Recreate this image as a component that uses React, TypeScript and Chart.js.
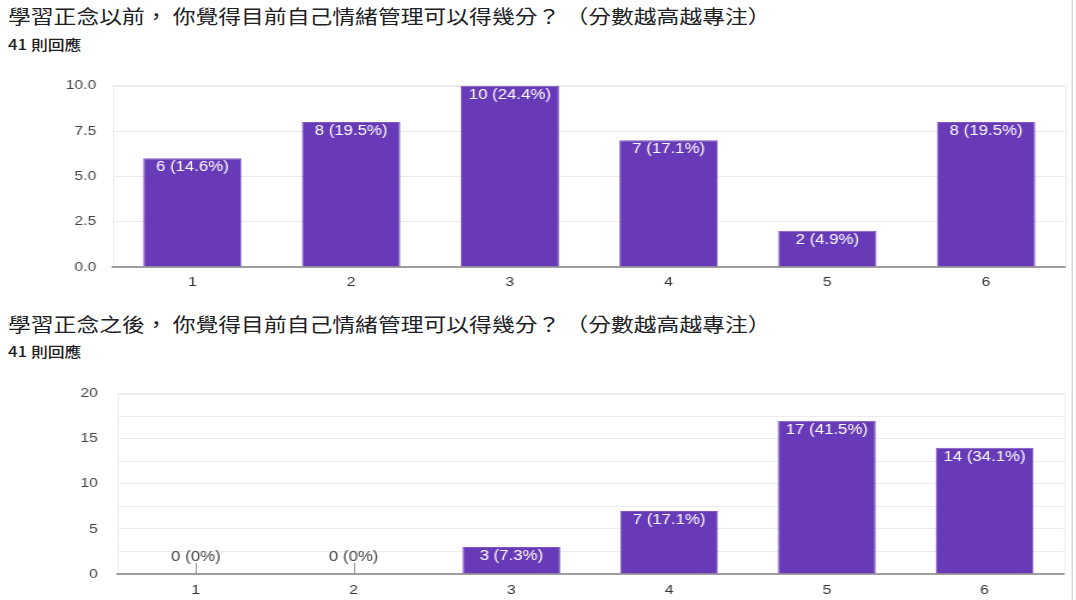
import React, { useEffect, useRef } from "react";
import { Chart, registerables } from "chart.js";

Chart.register(...registerables);

const categories = ["1", "2", "3", "4", "5", "6"];

const beforeTitle = "學習正念以前， 你覺得目前自己情緒管理可以得幾分？ （分數越高越專注）";
const beforeValues = [6, 8, 10, 7, 2, 8];
const beforePercents = ["14.6%", "19.5%", "24.4%", "17.1%", "4.9%", "19.5%"];
const beforeTicks = [0, 2.5, 5, 7.5, 10];

const afterTitle = "學習正念之後， 你覺得目前自己情緒管理可以得幾分？ （分數越高越專注）";
const afterValues = [0, 0, 3, 7, 17, 14];
const afterPercents = ["0%", "0%", "7.3%", "17.1%", "41.5%", "34.1%"];
const afterTicks = [0, 5, 10, 15, 20];

const responsesLabel = "41 則回應";

const BAR_COLOR = "#673ab7";
const CHART_FONT = "'Liberation Sans', Arial, sans-serif";
const TITLE_FONT = "'Noto Sans CJK TC', 'Noto Sans', sans-serif";

// The reference is horizontally stretched; render narrower and scale in X.
const SX = 1.2;
const W = 1076 / SX;

type ChartSpec = {
  values: number[];
  percents: string[];
  max: number;
  step: number;
  labelTicks: number[];
  decimals: number;
  yWidth: number;
  xHeight: number;
  padTop: number;
  padRight: number;
  yPad: number;
  xPad: number;
};

const labelPlugin = {
  id: "barLabels",
  beforeDraw(chart: any) {
    const { ctx, chartArea } = chart;
    ctx.save();
    ctx.strokeStyle = "#ebebeb";
    ctx.lineWidth = 1;
    ctx.strokeRect(
      Math.round(chartArea.left) + 0.5,
      Math.round(chartArea.top) + 0.5,
      Math.round(chartArea.right - chartArea.left),
      Math.round(chartArea.bottom - chartArea.top)
    );
    ctx.restore();
  },
  afterDatasetsDraw(chart: any, _args: any, opts: any) {
    const { ctx } = chart;
    const meta = chart.getDatasetMeta(0);
    const data = chart.data.datasets[0].data as number[];
    const percents: string[] = opts.percents;
    ctx.save();
    ctx.font = `14px ${CHART_FONT}`;
    ctx.textAlign = "center";
    meta.data.forEach((bar: any, i: number) => {
      const text = `${data[i]} (${percents[i]})`;
      if (data[i] > 0) {
        ctx.fillStyle = "#ffffff";
        ctx.textBaseline = "top";
        ctx.fillText(text, bar.x, bar.y + 2);
      } else {
        const base = chart.scales.y.getPixelForValue(0);
        ctx.strokeStyle = "#999999";
        ctx.lineWidth = 1;
        ctx.beginPath();
        ctx.moveTo(Math.round(bar.x) + 0.5, base);
        ctx.lineTo(Math.round(bar.x) + 0.5, base - 11);
        ctx.stroke();
        ctx.fillStyle = "#444444";
        ctx.textBaseline = "bottom";
        ctx.fillText(text, bar.x, base - 10);
      }
    });
    ctx.restore();
  },
};

function BarChart({ spec, width, height }: { spec: ChartSpec; width: number; height: number }) {
  const ref = useRef<HTMLCanvasElement | null>(null);
  useEffect(() => {
    if (!ref.current) return;
    const chart = new Chart(ref.current, {
      type: "bar",
      data: {
        labels: categories,
        datasets: [
          {
            data: spec.values,
            backgroundColor: BAR_COLOR,
            borderColor: "#7e57c2",
            borderWidth: 1,
            barPercentage: 0.62,
            categoryPercentage: 1,
          },
        ],
      },
      options: {
        responsive: false,
        animation: false,
        devicePixelRatio: 1,
        layout: { padding: { top: spec.padTop, right: spec.padRight, left: 0, bottom: 0 } },
        plugins: {
          legend: { display: false },
          tooltip: { enabled: false },
          barLabels: { percents: spec.percents },
        } as any,
        scales: {
          x: {
            grid: { display: false },
            border: { color: "#9e9e9e", width: 2 },
            ticks: { color: "#333333", font: { family: CHART_FONT, size: 13 }, padding: spec.xPad },
            afterFit: (s: any) => {
              s.height = spec.xHeight;
            },
          },
          y: {
            min: 0,
            max: spec.max,
            grid: { color: "#ebebeb", drawTicks: false },
            border: { display: false },
            ticks: {
              stepSize: spec.step,
              color: "#444444",
              padding: spec.yPad,
              font: { family: CHART_FONT, size: 13 },
              callback: (v: any) =>
                spec.labelTicks.includes(Number(v)) ? Number(v).toFixed(spec.decimals) : "",
            },
            afterFit: (s: any) => {
              s.width = spec.yWidth;
            },
          },
        },
      },
      plugins: [labelPlugin],
    });
    return () => chart.destroy();
  }, []);
  return <canvas ref={ref} width={width} height={height} style={{ width, height, display: "block" }} />;
}

const titleStyle: React.CSSProperties = {
  position: "absolute",
  left: 8 / SX,
  fontFamily: TITLE_FONT,
  fontSize: 19,
  color: "#202124",
  whiteSpace: "nowrap",
  lineHeight: "24px",
};
const subStyle: React.CSSProperties = {
  position: "absolute",
  left: 8 / SX,
  fontFamily: TITLE_FONT,
  fontSize: 14,
  fontWeight: 500,
  color: "#202124",
  whiteSpace: "nowrap",
  lineHeight: "16px",
};

export default function App() {
  const spec1: ChartSpec = {
    values: beforeValues,
    percents: beforePercents,
    max: 10,
    step: 2.5,
    labelTicks: beforeTicks,
    decimals: 1,
    yWidth: 113 / SX,
    xHeight: 33,
    padTop: 8,
    padRight: W - 1065 / SX,
    yPad: 14,
    xPad: 0,
  };
  const spec2: ChartSpec = {
    values: afterValues,
    percents: afterPercents,
    max: 20,
    step: 2.5,
    labelTicks: afterTicks,
    decimals: 0,
    yWidth: 117 / SX,
    xHeight: 26,
    padTop: 4,
    padRight: W - 1063 / SX,
    yPad: 16,
    xPad: 1,
  };
  const cw = Math.round(W);
  return (
    <div
      style={{
        position: "absolute",
        left: 0,
        top: 0,
        width: cw,
        height: 600,
        background: "#fff",
        overflow: "hidden",
        transform: `scaleX(${SX})`,
        transformOrigin: "0 0",
      }}
    >
      <div style={{ ...titleStyle, top: 4 }}>{beforeTitle}</div>
      <div style={{ ...subStyle, top: 36 }}>{responsesLabel}</div>
      <div style={{ position: "absolute", left: 0, top: 64 }}>
        <BarChart spec={spec1} width={cw} height={236} />
      </div>
      <div style={{ ...titleStyle, top: 312 }}>{afterTitle}</div>
      <div style={{ ...subStyle, top: 343 }}>{responsesLabel}</div>
      <div style={{ position: "absolute", left: 0, top: 370 }}>
        <BarChart spec={spec2} width={cw} height={230} />
      </div>
      <div style={{ position: "absolute", left: 1072 / SX, top: 0, width: 1, height: 600, background: "#d0d0d0" }} />
    </div>
  );
}
